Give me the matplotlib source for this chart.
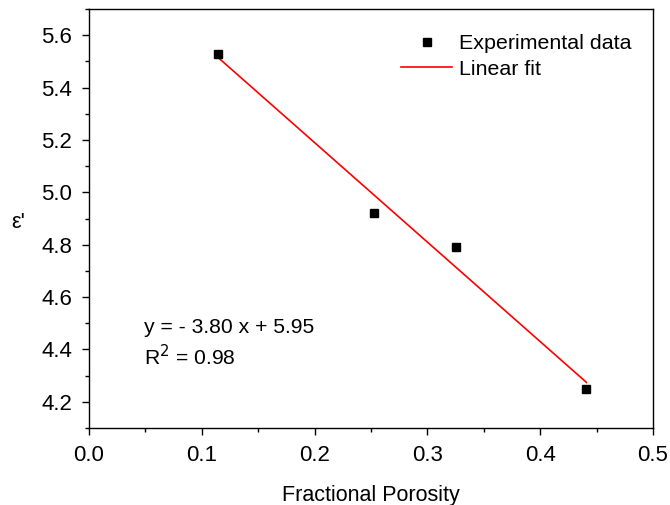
import numpy as np
import matplotlib
matplotlib.use("Agg")
import matplotlib.pyplot as plt
from matplotlib.ticker import MultipleLocator

plt.rcParams['font.family'] = ['Liberation Sans', 'DejaVu Sans']

porosity = [0.114, 0.253, 0.325, 0.441]
permittivity = [5.53, 4.92, 4.79, 4.25]

# fit coefficients as printed on the chart
SLOPE = -3.80
INTERCEPT = 5.95
R2 = 0.98


def main():
    fig = plt.figure(figsize=(6.7, 5.05), dpi=100)
    ax = fig.add_axes([0.1328, 0.1525, 0.8418, 0.8295])

    fit_x = np.array([min(porosity), max(porosity)])
    ax.plot(porosity, permittivity, 's', color='black', markersize=6,
            label='Experimental data', zorder=3)
    ax.plot(fit_x, SLOPE * fit_x + INTERCEPT, '-', color='red', lw=1.2,
            label='Linear fit', zorder=2)

    ax.set_xlim(0, 0.5)
    ax.set_ylim(4.1, 5.7)
    ax.xaxis.set_major_locator(MultipleLocator(0.1))
    ax.xaxis.set_minor_locator(MultipleLocator(0.05))
    ax.yaxis.set_major_locator(MultipleLocator(0.2))
    ax.yaxis.set_minor_locator(MultipleLocator(0.1))
    ax.tick_params(which='major', direction='out', length=5, width=1,
                   labelsize=16, pad=7)
    ax.tick_params(which='minor', direction='out', length=3, width=1)
    ax.xaxis.set_major_formatter(plt.FormatStrFormatter('%.1f'))
    ax.yaxis.set_major_formatter(plt.FormatStrFormatter('%.1f'))
    for s in ax.spines.values():
        s.set_linewidth(1.0)

    ax.set_xlabel('Fractional Porosity', fontsize=15.5, labelpad=14)
    ax.set_ylabel("ε'", fontsize=15.5, rotation=0, va='center')
    ax.yaxis.set_label_coords(-0.126, 0.49)

    ax.text(0.098, 0.239, 'y = - %.2f x + %.2f' % (-SLOPE, INTERCEPT),
            transform=ax.transAxes, fontsize=15.2, va='center')
    ax.text(0.098, 0.17, 'R$^2$ = %.2f' % R2,
            transform=ax.transAxes, fontsize=15.2, va='center')

    ax.legend(loc='upper left', bbox_to_anchor=(0.553, 0.94),
              frameon=False, fontsize=15.4, handlelength=2.4,
              handletextpad=0.3, labelspacing=0.3, borderpad=0,
              borderaxespad=0)

    fig.savefig('out.png', dpi=100)


if __name__ == '__main__':
    main()
